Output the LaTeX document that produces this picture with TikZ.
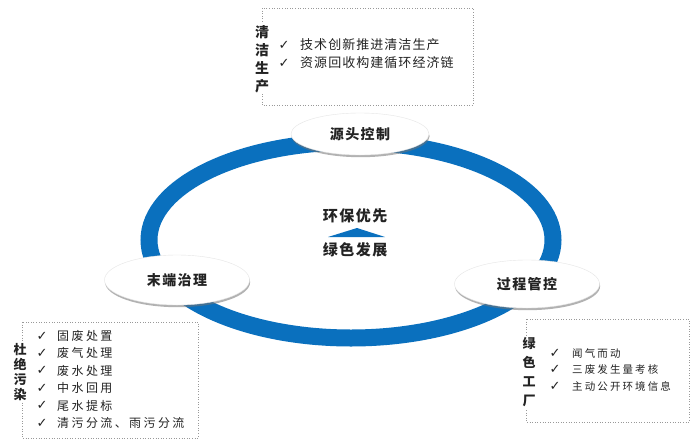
\documentclass[tikz,border=0pt]{standalone}
\usepackage{fontspec}
\newfontfamily\cjk{Noto Sans CJK SC}
\newfontfamily\cjksp[LetterSpace=20]{Noto Sans CJK SC}
\newfontfamily\cjktop[LetterSpace=8]{Noto Sans CJK SC}
\newfontfamily\cjkmid[LetterSpace=10]{Noto Sans CJK SC}
\newfontfamily\symf{DejaVu Sans}
\usetikzlibrary{shapes.geometric,shadows}
\definecolor{ringblue}{RGB}{10,112,190}
\definecolor{txt}{RGB}{35,35,35}
\begin{document}
\begin{tikzpicture}[x=1pt,y=-1pt,
  oval/.style={ellipse, fill=white, draw=black!10, line width=0.4pt, inner sep=0pt,
    drop shadow={shadow xshift=0.6pt, shadow yshift=-2.2pt, fill=black!55, opacity=0.55},
    font=\cjkmid\bfseries\fontsize{14}{16}\selectfont, text=txt},
  dotbox/.style={draw=black!40, dotted, line width=0.6pt},
  chk/.style={inner sep=0pt, font=\symf\fontsize{13}{14}\selectfont, text=txt},
  item/.style={anchor=west, inner sep=0pt, text=txt},
  vtitle/.style={align=center, fill=white, inner sep=1pt, text=txt},
  ctext/.style={inner sep=0pt, font=\cjkmid\bfseries\fontsize{15}{17}\selectfont, text=txt}]
\useasboundingbox (0,0) rectangle (700,447);
\fill[white] (0,0) rectangle (700,447);

% ring
\draw[ringblue, line width=17pt] (351,240) ellipse [x radius=202, y radius=98];

% ovals
\node[oval, minimum width=138pt, minimum height=42pt] (src) at (360,134) {源头控制};
\node[oval, minimum width=145pt, minimum height=50pt] (end) at (177,280) {末端治理};
\node[oval, minimum width=145pt, minimum height=48pt] (proc) at (527,284) {过程管控};

% center
\node[ctext] (pri) at (355,216) {环保优先};
\coordinate (apex) at (357,228);
\coordinate (bl) at (328,237);
\coordinate (br) at (385,237);
\fill[ringblue] (bl) -- (apex) -- (br) -- cycle;
\node[ctext] (green) at (355,250) {绿色发展};

% top box
\draw[dotbox] (262,8) rectangle (473,105);
\node[vtitle, font=\cjk\bfseries\fontsize{14}{18}\selectfont] (tt) at (262,59) {清\\洁\\生\\产};
\foreach \t [count=\i] in {技术创新推进清洁生产,资源回收构建循环经济链} {
  \node[chk] (tc\i) at (284,{27+18*\i}) {✓};
  \node[item, font=\cjktop\fontsize{13}{15}\selectfont] (ti\i) at (300,{27+18*\i}) {\t};
}

% left box
\draw[dotbox] (22,322) rectangle (198,438);
\node[vtitle, font=\cjk\bfseries\fontsize{13}{15}\selectfont] (lt) at (20,372) {杜\\绝\\污\\染};
\foreach \t [count=\i] in {固废处置,废气处理,废水处理,中水回用,尾水提标,清污分流、雨污分流} {
  \node[chk] (lc\i) at (42,{318.5+17.4*\i}) {✓};
  \node[item, font=\cjksp\fontsize{12}{14}\selectfont] (li\i) at (57,{318.5+17.4*\i}) {\t};
}

% right box
\draw[dotbox] (526,319) rectangle (689,422);
\node[vtitle, font=\cjk\bfseries\fontsize{13}{19}\selectfont] (rt) at (529,372) {绿\\色\\工\\厂};
\foreach \t [count=\i] in {闻气而动,三废发生量考核,主动公开环境信息} {
  \node[chk] (rc\i) at (555,{336.5+16.5*\i}) {✓};
  \node[item, font=\cjksp\fontsize{10.5}{12}\selectfont] (ri\i) at (572,{336.5+16.5*\i}) {\t};
}
\end{tikzpicture}
\end{document}
